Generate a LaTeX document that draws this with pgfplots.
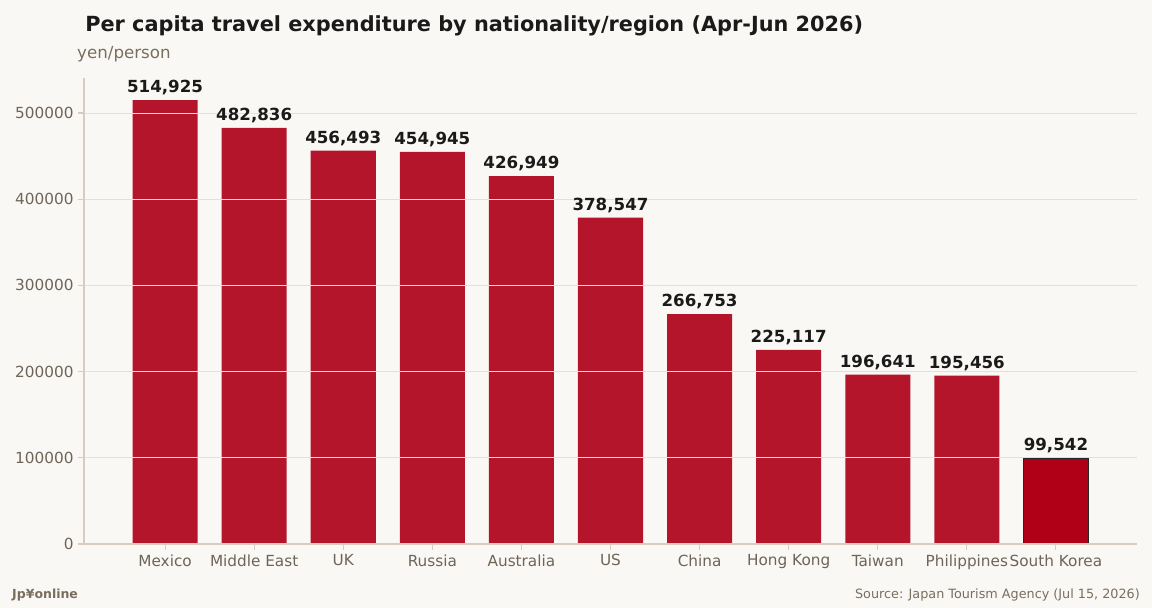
\documentclass[border=0pt]{standalone}
\usepackage{pgfplots}
\pgfplotsset{compat=1.18}
\usepackage{fontspec}
\setmainfont{DejaVu Sans}
\definecolor{bgc}{HTML}{FAF8F5}
\definecolor{barc}{HTML}{B5152B}
\definecolor{barhl}{HTML}{B00018}
\definecolor{gridc}{HTML}{EADCD6}
\definecolor{spinec}{HTML}{D8CCC0}
\definecolor{tickc}{HTML}{6E6458}
\definecolor{subc}{HTML}{7A6E5E}
\definecolor{titlec}{HTML}{1A1A1A}
\pgfplotstableread{
x y
0 514925
1 482836
2 456493
3 454945
4 426949
5 378547
6 266753
7 225117
8 196641
9 195456
}\maindata
\pgfplotstableread{
x y
10 99542
}\hldata
\begin{document}
\begin{tikzpicture}
\fill[bgc] (0,0) rectangle (829.44pt,437.76pt);
\begin{axis}[
  at={(60.48pt,46.08pt)}, anchor=south west,
  scale only axis, width=758.16pt, height=335.52pt,
  ybar, bar shift=0pt, bar width=0.73,
  xmin=-0.91, xmax=10.91, ymin=0, ymax=540671,
  xtick={0,...,10},
  xticklabels={Mexico,Middle East,UK,Russia,Australia,US,China,Hong Kong,Taiwan,Philippines,South Korea},
  ytick={0,100000,200000,300000,400000,500000},
  scaled y ticks=false,
  yticklabel style={/pgf/number format/.cd,fixed,precision=0,1000 sep={},assume math mode=true},
  ticklabel style={font=\fontsize{11}{13}\selectfont, text=tickc},
  axis lines*=left,
  axis line style={spinec, line width=0.8pt, -},
  tick style={spinec, line width=0.8pt},
  tick align=outside, major tick length=4pt,
  ymajorgrids, major grid style={gridc, line width=0.7pt},
  axis on top,
  nodes near coords={\pgfmathprintnumber[fixed,precision=0,1000 sep={,},assume math mode=true]{\pgfplotspointmeta}},
  every node near coord/.append style={font=\bfseries\fontsize{12}{14}\selectfont, text=titlec, yshift=0pt},
  clip=false,
]
\addplot[fill=barc, draw=none] table[x=x,y=y] {\maindata};
\addplot[fill=barhl, draw=black!85, line width=1.3pt] table[x=x,y=y] {\hldata};
\end{axis}
\node[anchor=base west, font=\bfseries\fontsize{15}{17}\selectfont, text=titlec, inner sep=0pt] at (61.2pt,415.4pt) {Per capita travel expenditure by nationality/region (Apr-Jun 2026)};
\node[anchor=base west, font=\fontsize{12}{14}\selectfont, text=subc, inner sep=0pt] at (55.4pt,395.3pt) {yen/person};
\node[anchor=base west, font=\bfseries\fontsize{9}{11}\selectfont, text=subc, inner sep=0pt] at (8.6pt,6.5pt) {Jp¥online};
\node[anchor=base east, font=\fontsize{9.2}{11}\selectfont, text=subc, inner sep=0pt] at (820.8pt,6.5pt) {Source: Japan Tourism Agency (Jul 15, 2026)};
\end{tikzpicture}
\end{document}
